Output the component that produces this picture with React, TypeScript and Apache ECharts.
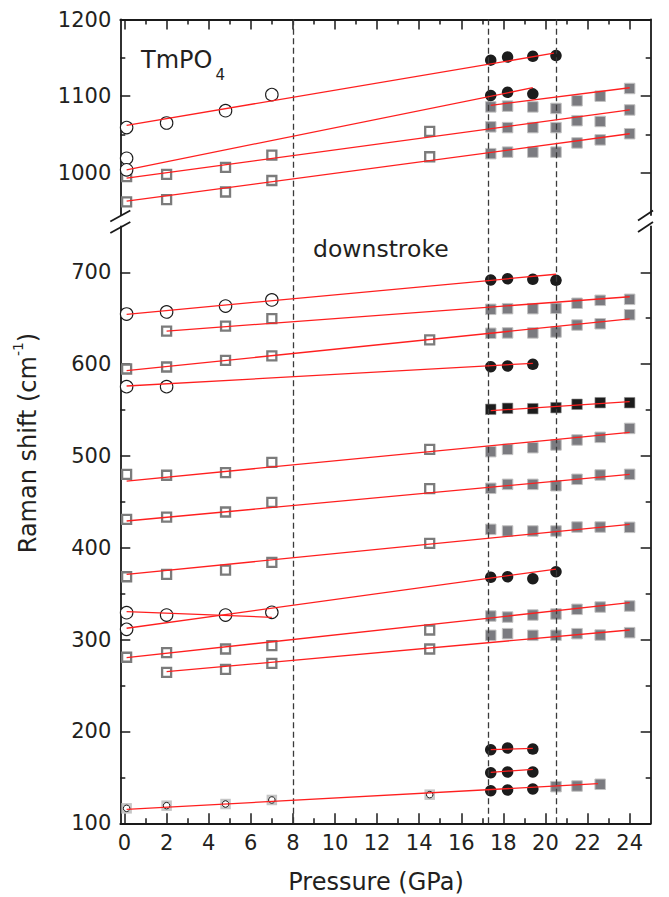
import React, { useEffect, useRef } from 'react';
import * as echarts from 'echarts';

const FONT = '"DejaVu Sans", sans-serif';
const TEXT = '#231f20';
const AXIS = '#1a1a1a';
const RED = '#ff1f1f';

// axis definitions
const X_MIN = -0.2;
const X_MAX = 25;
const X_MAJOR = [0, 2, 4, 6, 8, 10, 12, 14, 16, 18, 20, 22, 24];
const X_MINOR = [1, 3, 5, 7, 9, 11, 13, 15, 17, 19, 21, 23];
const TOP_MIN = 945;
const TOP_MAX = 1200;
const TOP_MAJOR = [1000, 1100, 1200];
const TOP_MINOR = [1050, 1150];
const BOT_MIN = 100;
const BOT_MAX = 750;
const BOT_MAJOR = [100, 200, 300, 400, 500, 600, 700];
const BOT_MINOR = [150, 250, 350, 450, 550, 650];
const TRANSITIONS = [8, 17.3, 20.5];

// ---- upper panel (950-1200 cm-1) ----
const openCircleTop = [[0.1, 1059], [0.1, 1019], [0.1, 1004], [2.0, 1065], [4.8, 1081], [7.0, 1102]];
const openSquareTop = [
  [0.1, 995], [0.1, 962], [2.0, 998], [2.0, 965], [4.8, 1007], [4.8, 975],
  [7.0, 1023], [7.0, 990], [14.5, 1054], [14.5, 1021],
];
const filledCircleTop = [
  [17.4, 1147], [17.4, 1101], [18.2, 1151], [18.2, 1105], [19.4, 1152], [19.4, 1103], [20.5, 1153],
];
const graySquareTop = [
  [17.4, 1086], [17.4, 1060], [17.4, 1025],
  [18.2, 1087], [18.2, 1059], [18.2, 1027],
  [19.4, 1086], [19.4, 1059], [19.4, 1027],
  [20.5, 1084], [20.5, 1059], [20.5, 1027],
  [21.5, 1094], [21.5, 1068], [21.5, 1039],
  [22.6, 1100], [22.6, 1067], [22.6, 1043],
  [24.0, 1110], [24.0, 1082], [24.0, 1051],
];
const fitTop = [
  [[0.1, 1062], [20.4, 1156]],
  [[0.1, 1004], [19.4, 1111]],
  [[0.1, 993], [24.0, 1082]],
  [[0.1, 963], [24.0, 1051]],
  [[17.4, 1088], [24.0, 1111]],
];

// ---- lower panel (100-750 cm-1) ----
const openCircleBot = [
  [0.1, 654.6], [2.0, 656.8], [4.8, 663.3], [7.0, 669.9],
  [0.1, 575.5], [2.0, 575.5],
  [0.1, 329.3], [0.1, 311.2], [2.0, 326.8], [4.8, 326.8], [7.0, 329.8],
];
const openSquareBot = [
  [2.0, 636], [4.8, 641.5], [7.0, 649.5],
  [0.1, 594.7], [2.0, 596.9], [4.8, 604.2], [7.0, 608.9], [14.5, 626.4],
  [0.1, 480], [2.0, 479], [4.8, 481.8], [7.0, 493.1], [14.5, 507.2],
  [0.1, 431], [2.0, 433.5], [4.8, 439], [7.0, 449.5], [14.5, 464.4],
  [0.1, 368.5], [2.0, 371.1], [4.8, 375.8], [7.0, 384.2], [14.5, 404.9],
  [0.1, 280.8], [2.0, 285.8], [4.8, 289.8], [7.0, 293.4], [14.5, 310.5],
  [2.0, 264.4], [4.8, 267.7], [7.0, 274.2], [14.5, 289.8],
];
const filledCircleBot = [
  [17.4, 691.7], [18.2, 693], [19.4, 692.4], [20.5, 691.3],
  [17.4, 597.2], [18.2, 598], [19.4, 599.8],
  [17.4, 367.9], [18.2, 368.5], [19.4, 366.4], [20.5, 374],
  [17.4, 180.2], [18.2, 182], [19.4, 180.9],
  [17.4, 155.1], [18.2, 155.9], [19.4, 155.9],
  [17.4, 135.5], [18.2, 136.3], [19.4, 137.4],
];
const graySquareBot = [
  [17.4, 659.7], [18.2, 660.4], [19.4, 660.4], [20.5, 660.8], [21.5, 666.3], [22.6, 669.5], [24.0, 670.6],
  [17.4, 633.6], [18.2, 634], [19.4, 634], [20.5, 635], [21.5, 642.6], [22.6, 644], [24.0, 653.8],
  [17.4, 504.7], [18.2, 507.2], [19.4, 509], [20.5, 512], [21.5, 517.4], [22.6, 520.3], [24.0, 530],
  [17.4, 464.8], [18.2, 469.1], [19.4, 469.1], [20.5, 467.6], [21.5, 474.6], [22.6, 479.3], [24.0, 480],
  [17.4, 420.1], [18.2, 418.3], [19.4, 418.3], [20.5, 418.3], [21.5, 422.6], [22.6, 422.6], [24.0, 422.3],
  [17.4, 325.7], [18.2, 324.6], [19.4, 326.8], [20.5, 327.9], [21.5, 333], [22.6, 335.5], [24.0, 336.6],
  [17.4, 304.7], [18.2, 306.5], [19.4, 304.7], [20.5, 304.7], [21.5, 306.5], [22.6, 305], [24.0, 307.6],
  [20.5, 139.9], [21.5, 140.6], [22.6, 142.5],
];
const blackSquareBot = [
  [17.4, 550.8], [18.2, 551.9], [19.4, 551.5], [20.5, 552.6], [21.5, 556.3], [22.6, 558], [24.0, 558],
];
const lowMode = [[0.1, 116.3], [2.0, 119.2], [4.8, 121], [7.0, 125.4], [14.5, 131.2]];
const fitBot = [
  [[0.1, 654.3], [20.5, 697.9]],
  [[2.0, 636], [24.0, 673.4]],
  [[0.1, 593], [24.0, 649.2]],
  [[0.1, 576.2], [19.4, 600.9]],
  [[17.4, 549.3], [24.0, 559.1]],
  [[0.1, 472.7], [24.0, 525.8]],
  [[0.1, 429.2], [24.0, 480]],
  [[0.1, 371.1], [24.0, 425.6]],
  [[0.1, 330.4], [7.0, 324.3]],
  [[0.1, 312.4], [20.5, 376.9]],
  [[0.1, 280.4], [24.0, 340.2]],
  [[2.0, 265.1], [24.0, 310.5]],
  [[0.1, 115.2], [22.5, 143.1]],
  [[17.4, 155.5], [19.4, 158.8]],
  [[17.4, 180.2], [19.4, 181.6]],
];

const GRID_LEFT = 120.3;
const GRID_RIGHT = 18.3;

export default function App() {
  const ref = useRef<HTMLDivElement>(null);

  useEffect(() => {
    document.body.style.margin = '0';
    const chart = echarts.init(ref.current!, undefined, { renderer: 'svg' });

    const tickStyle = { color: AXIS, width: 1.5 };
    const lineStyle = { color: AXIS, width: 1.8 };
    const labelStyle = {
      fontSize: 21, fontFamily: FONT, color: TEXT, margin: 9,
      formatter: (v: number) => String(v),
    };

    const xAx = (gi: number, pos: string, vals: number[], len: number, line: boolean, label: boolean, show = true) => ({
      type: 'value', gridIndex: gi, position: pos, min: X_MIN, max: X_MAX, show,
      axisLine: { show: line, onZero: false, lineStyle },
      axisTick: { show: true, inside: true, length: len, customValues: vals, lineStyle: tickStyle },
      axisLabel: { show: label, customValues: vals, ...labelStyle },
      splitLine: { show: false },
    });
    const yAx = (gi: number, pos: string, min: number, max: number, vals: number[], len: number, line: boolean, label: boolean, show = true) => ({
      type: 'value', gridIndex: gi, position: pos, min, max, show,
      axisLine: { show: line, onZero: false, lineStyle },
      axisTick: { show: true, inside: true, length: len, customValues: vals, lineStyle: tickStyle },
      axisLabel: { show: label, customValues: vals, ...labelStyle },
      splitLine: { show: false },
    });

    const openCircle = { symbol: 'circle', symbolSize: 12.5, itemStyle: { color: '#ffffff', borderColor: '#1a1a1a', borderWidth: 1.1, opacity: 1 } };
    const openSquare = { symbol: 'rect', symbolSize: 9, itemStyle: { color: '#ffffff', borderColor: '#7b7b7b', borderWidth: 2.3, opacity: 1 } };
    const filledCircle = { symbol: 'circle', symbolSize: 11.5, itemStyle: { color: '#1c1c1c', opacity: 1 } };
    const graySquare = { symbol: 'rect', symbolSize: 10.5, itemStyle: { color: '#7b7b80', borderColor: '#c2c2c2', borderWidth: 1, opacity: 1 } };
    const blackSquare = { symbol: 'rect', symbolSize: 10.5, itemStyle: { color: '#1c1c1c', borderColor: '#8a8a8a', borderWidth: 0.6, opacity: 1 } };
    const lowSquare = { symbol: 'rect', symbolSize: 10.5, itemStyle: { color: '#c6c6c6', opacity: 1 } };
    const lowCircle = { symbol: 'circle', symbolSize: 6.5, itemStyle: { color: '#ffffff', borderColor: '#1a1a1a', borderWidth: 1, opacity: 1 } };

    const sc = (panel: number, data: number[][], st: any) => ({
      type: 'scatter', xAxisIndex: panel === 0 ? 0 : 2, yAxisIndex: panel === 0 ? 0 : 4,
      data, silent: true, z: 3, ...st,
    });
    const fit = (panel: number, seg: number[][]) => ({
      type: 'line', xAxisIndex: panel === 0 ? 0 : 2, yAxisIndex: panel === 0 ? 0 : 4,
      data: seg, symbol: 'none', silent: true, z: 6,
      lineStyle: { color: RED, width: 1.3 },
    });

    const slash = (cx: number, cy: number, hw: number, hh: number) => ({
      type: 'line', silent: true, z: 10,
      shape: { x1: cx - hw, y1: cy + hh, x2: cx + hw, y2: cy - hh },
      style: { stroke: AXIS, lineWidth: 1.8 },
    });

    const option: any = {
      animation: false,
      backgroundColor: '#ffffff',
      grid: [
        { left: GRID_LEFT, right: GRID_RIGHT, top: 19.5, height: 195.5 },
        { left: GRID_LEFT, right: GRID_RIGHT, top: 226.4, height: 596.9 },
        { left: GRID_LEFT, right: GRID_RIGHT, top: 19.5, height: 803.8 },
      ],
      xAxis: [
        xAx(0, 'top', X_MAJOR, 10, true, false),
        xAx(0, 'top', X_MINOR, 5, false, false),
        xAx(1, 'bottom', X_MAJOR, 10, true, true),
        xAx(1, 'bottom', X_MINOR, 5, false, false),
        xAx(2, 'bottom', [], 0, false, false, false),
      ],
      yAxis: [
        yAx(0, 'left', TOP_MIN, TOP_MAX, TOP_MAJOR, 10, true, true),
        yAx(0, 'left', TOP_MIN, TOP_MAX, TOP_MINOR, 5, false, false),
        yAx(0, 'right', TOP_MIN, TOP_MAX, TOP_MAJOR, 10, true, false),
        yAx(0, 'right', TOP_MIN, TOP_MAX, TOP_MINOR, 5, false, false),
        yAx(1, 'left', BOT_MIN, BOT_MAX, BOT_MAJOR, 10, true, true),
        yAx(1, 'left', BOT_MIN, BOT_MAX, BOT_MINOR, 5, false, false),
        yAx(1, 'right', BOT_MIN, BOT_MAX, BOT_MAJOR, 10, true, false),
        yAx(1, 'right', BOT_MIN, BOT_MAX, BOT_MINOR, 5, false, false),
        yAx(2, 'left', 0, 1, [], 0, false, false, false),
      ],
      series: [
        sc(0, openSquareTop, openSquare),
        sc(0, openCircleTop, openCircle),
        sc(0, graySquareTop, graySquare),
        sc(0, filledCircleTop, filledCircle),
        sc(1, lowMode, lowSquare),
        sc(1, lowMode, lowCircle),
        sc(1, openSquareBot, openSquare),
        sc(1, openCircleBot, openCircle),
        sc(1, graySquareBot, graySquare),
        sc(1, blackSquareBot, blackSquare),
        sc(1, filledCircleBot, filledCircle),
        {
          type: 'scatter', xAxisIndex: 4, yAxisIndex: 8, data: [], silent: true, z: 5,
          markLine: {
            silent: true, symbol: 'none', animation: false,
            label: { show: false },
            lineStyle: { color: '#3a3a3a', width: 1.3, type: [6, 3.5] },
            data: TRANSITIONS.map((v) => ({ xAxis: v })),
          },
        },
        ...fitTop.map((s) => fit(0, s)),
        ...fitBot.map((s) => fit(1, s)),
      ],
      graphic: [
        slash(120.3, 216, 10, 5.5),
        slash(120.3, 227.5, 10, 5.5),
        slash(645.5, 215.5, 7.5, 5),
        slash(645.5, 227, 7.5, 5),
        {
          type: 'text', x: 141, y: 60, silent: true,
          style: { text: 'TmPO', fontSize: 24, fontFamily: FONT, fill: TEXT, align: 'left', verticalAlign: 'middle' },
        },
        {
          type: 'text', x: 215.5, y: 74.5, silent: true,
          style: { text: '4', fontSize: 15, fontFamily: FONT, fill: TEXT, align: 'left', verticalAlign: 'middle' },
        },
        {
          type: 'text', x: 313, y: 248.5, silent: true,
          style: { text: 'downstroke', fontSize: 23.5, fontFamily: FONT, fill: TEXT, align: 'left', verticalAlign: 'middle' },
        },
        {
          type: 'text', x: 376, y: 881.5, silent: true,
          style: { text: 'Pressure (GPa)', fontSize: 24, fontFamily: FONT, fill: TEXT, align: 'center', verticalAlign: 'middle' },
        },
        {
          type: 'text', x: 28, y: 443, rotation: Math.PI / 2, silent: true,
          style: {
            text: 'Raman shift (cm{sup|-1})',
            fontSize: 24, fontFamily: FONT, fill: TEXT, lineHeight: 34,
            align: 'center', verticalAlign: 'middle',
            rich: { sup: { fontSize: 14, fontFamily: FONT, fill: TEXT, lineHeight: 13, verticalAlign: 'top' } },
          },
        },
      ],
    };

    chart.setOption(option);
    return () => chart.dispose();
  }, []);

  return <div ref={ref} style={{ position: 'absolute', left: 0, top: 0, width: 669, height: 897 }} />;
}
